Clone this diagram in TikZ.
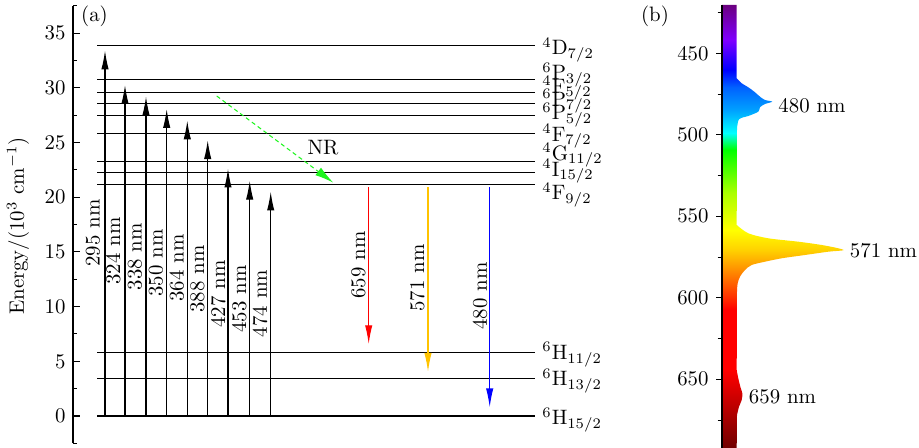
\documentclass[tikz,border=0pt]{standalone}
\usepackage{amsmath}
\usepackage{tikz}
\usetikzlibrary{arrows.meta}
\usepackage{xcolor}
\definecolor{nrgreen}{RGB}{30,245,30}
\definecolor{ambery}{RGB}{255,195,0}
\pgfdeclareverticalshading{spectrum}{100bp}{rgb(0bp)=(0.44,0,0); rgb(25bp)=(0.44,0,0);
  rgb(30.98bp)=(0.82,0,0); rgb(33.8bp)=(1,0,0); rgb(40.58bp)=(1,0,0);
  rgb(42.04bp)=(1,0.19,0); rgb(45.09bp)=(1,0.56,0); rgb(47.35bp)=(1,0.82,0);
  rgb(49.6bp)=(1,1,0); rgb(53.78bp)=(0.67,1,0); rgb(58.63bp)=(0,1,0);
  rgb(60.55bp)=(0,1,1); rgb(63.15bp)=(0,0.63,1); rgb(65.74bp)=(0,0.38,1);
  rgb(67.66bp)=(0,0,1); rgb(71.05bp)=(0.5,0,1); rgb(75bp)=(0.42,0,0.5);
  rgb(100bp)=(0.42,0,0.5)}

\begin{document}
\begin{tikzpicture}[x=0.48pt, y=-0.48pt, line width=0.5pt,
  tip/.style={-{Latex[length=9pt,width=3.5pt]}},
  lvl/.style={anchor=base west},
  wl/.style={rotate=90}]
\useasboundingbox (0,0) rectangle (919,448);
\begin{scope}[yshift=-199.68pt, y=5.2512pt]
\draw (73,-2.5) -- (73,37.5);
\foreach \e in {0,5,...,35} {
  \draw (73,\e) -- (80,\e);
  \node[left] (t\e) at (73,\e) {\e};
}
\foreach \e in {-2.5,2.5,...,37.5} \draw (73,\e) -- (77,\e);
\foreach \e/\b/\t [count=\i] in {33.9/33.01/{$^{4}\mathrm{D}_{7/2}$}, 30.8/30.75/{$^{6}\mathrm{P}_{3/2}$},
    29.6/29.52/{$^{4}\mathrm{F}_{5/2}$}, 28.55/28.33/{$^{6}\mathrm{P}_{7/2}$},
    27.5/27.06/{$^{6}\mathrm{P}_{5/2}$}, 25.8/25.13/{$^{4}\mathrm{F}_{7/2}$},
    23.3/23.39/{$^{4}\mathrm{G}_{11/2}$}, 22.3/21.93/{$^{4}\mathrm{I}_{15/2}$},
    21.2/19.78/{$^{4}\mathrm{F}_{9/2}$}, 5.8/5.16/{$^{6}\mathrm{H}_{11/2}$},
    3.45/2.75/{$^{6}\mathrm{H}_{13/2}$}, 0/-0.79/{$^{6}\mathrm{H}_{15/2}$}} {
  \draw (97,\e) -- (535,\e);
  \node[lvl] (lv\i) at (535,\b) {\t};
}
\foreach \x/\e/\l/\c/\w in {105/33.4/93/16.73/295, 125/30.25/113.3/15.08/324,
    146/29.2/135/14.56/338, 166.7/28.05/156/13.99/350, 187.3/27.0/176.7/13.53/364,
    207.7/25.2/197.3/12.52/388, 228/22.6/218.3/11.15/427, 249.7/21.5/239.3/10.69/453,
    270.7/20.5/260/10.28/474} {
  \draw[tip] (\x,0) -- (\x,\e);
  \node[wl] (w\w) at (\l,\c) {\w~nm};
}
\draw[tip, red] (368.7,20.9) -- (368.7,6.58);
\node[wl] (e659) at (358.3,13.8) {659 nm};
\draw[tip, ambery] (428,20.9) -- (428,4.05);
\node[wl] (e571) at (417.3,12.6) {571 nm};
\draw[tip, blue] (489.7,20.9) -- (489.7,0.8);
\node[wl] (e480) at (480,10.97) {480 nm};
\draw[nrgreen, dash pattern=on 2pt off 1.5pt, -{Latex[length=9pt,width=4.5pt]}] (216.7,29.25) -- (333.3,21.33);
\node (nr) at (323,24.5) {NR};
\end{scope}
\node (pa) at (94.5,16.5) {(a)};
\node[rotate=90] (ylab) at (18,226) {Energy/(10$^3$ cm$^{-1}$)};

\begin{scope}
\clip (722,5) -- (736.7,5) -- (736.7,78.3)
  -- plot[smooth, tension=0.5] coordinates {(736.7,78.3) (741.7,83.3) (748.3,87.3) (754.3,91.7)
     (760,96.7) (765,100) (772.3,101.7) (765,104) (760,107.3) (758.3,111.7) (748.3,116)
     (743.3,117.3) (739,119.3) (737.7,123.3) (737,128)}
  -- (736.7,225)
  -- plot[smooth, tension=0.5] coordinates {(736.7,225) (748.3,233.3) (768.3,238.3) (798.3,241.7)
     (821.7,245) (838.3,248.3) (843.3,250.3) (828.3,251.7) (805,255) (781.7,258.3)
     (765,261.7) (751.7,265) (745,270) (740,276.7) (737.7,283.3) (737,290)}
  -- (736.7,370)
  -- plot[smooth, tension=0.5] coordinates {(736.7,370) (738,377) (740.3,386.7) (742.3,393.3)
     (741.7,400) (739,406.7) (737,415)}
  -- (736.7,448) -- (722,448) -- cycle;
\shade[shading=spectrum] (722,5) rectangle (850,448);
\end{scope}
\draw (722,5) -- (722,448);
\begin{scope}[yshift=326.5pt, y=-0.7824pt]
\foreach \l in {450,500,...,650} {
  \draw (716,\l) -- (722,\l);
  \node[left] (s\l) at (716,\l) {\l};
}
\foreach \l in {425,475,...,675} \draw (717.5,\l) -- (722,\l);
\end{scope}
\node[right] (p480) at (771,106) {480 nm};
\node[right] (p571) at (842.5,250.7) {571 nm};
\node[right] (p659) at (741.5,396.7) {659 nm};
\node (pb) at (655,16.7) {(b)};
\end{tikzpicture}
\end{document}
